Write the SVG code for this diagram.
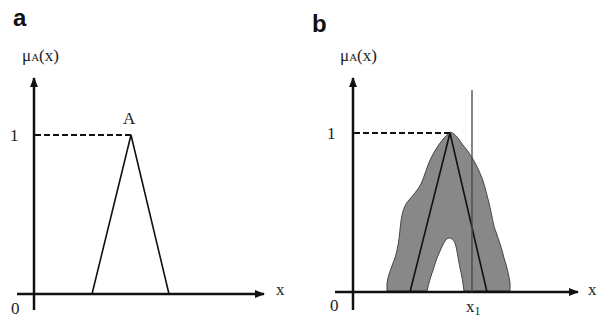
<svg xmlns="http://www.w3.org/2000/svg" width="599" height="322" viewBox="0 0 599 322">
<style>
.axis{stroke:#111;stroke-width:2.5;fill:none}
.dash{stroke:#111;stroke-width:2;stroke-dasharray:6,3;fill:none}
.tri{stroke:#111;stroke-width:1.6;fill:none}
.lbl{font-family:"Liberation Serif",serif;font-size:17px;fill:#222}
.panel{font-family:"Liberation Sans",Arial,sans-serif;font-size:24px;font-weight:bold;fill:#111}
</style>
<defs>
<marker id="arr" viewBox="0 0 10 8" refX="9" refY="4" markerWidth="10" markerHeight="8" markerUnits="userSpaceOnUse" orient="auto">
<path d="M0,0 L10,4 L0,8 Z" fill="#111"/>
</marker>
</defs>
<rect width="599" height="322" fill="#fff"/>
<g id="panel-a">
<text class="panel" x="13" y="26">a</text>
<text class="lbl" x="22" y="61">μ<tspan font-size="11">A</tspan>(x)</text>
<text class="lbl" x="10" y="141">1</text>
<text class="lbl" x="11" y="314">0</text>
<text class="lbl" x="276" y="295">x</text>
<text class="lbl" x="123" y="124">A</text>
</g>
<g id="panel-b">
<text class="panel" x="312" y="32">b</text>
<text class="lbl" x="340" y="61">μ<tspan font-size="11">A</tspan>(x)</text>
<text class="lbl" x="327" y="139">1</text>
<text class="lbl" x="330" y="311">0</text>
<text class="lbl" x="588" y="295">x</text>
<text class="lbl" x="466" y="312">x<tspan font-size="12" dy="3">1</tspan></text>
</g>
<g id="blob">
<path d="M387,291 L387,283 C388,276 391,268 395,258 C398,248 399,240 400,230 C401,220 402,211 406,204 C410,198 416,193 421,184 C425,175 427,166 431,158 C436,148 442,139 450,132 C454,133 457,136 462,144 C470,153 475,162 479,171 C484,181 486,192 489,203 C492,215 493,225 496,232 C499,241 502,249 504,258 C507,267 509,276 510,283 L510,291 L464,291 C463,283 462,276 460,268 C458,258 457,249 455,243 C453,239 451,238 449,238 C446,238 443,244 440,251 C436,259 434,268 431,276 C429,282 428,287 427,291 Z" fill="#888" stroke="#444" stroke-width="1"/>
</g>
<g id="connectors">
<line class="axis" x1="34" y1="310" x2="34" y2="78" marker-end="url(#arr)"/>
<line class="axis" x1="17" y1="294" x2="264" y2="294" marker-end="url(#arr)"/>
<line class="dash" x1="35" y1="135" x2="131" y2="135"/>
<polyline class="tri" points="92,294 131,135 169,294"/>
<line class="axis" x1="353" y1="310" x2="353" y2="78" marker-end="url(#arr)"/>
<line class="axis" x1="335" y1="292" x2="578" y2="292" marker-end="url(#arr)"/>
<line class="dash" x1="354" y1="133" x2="450" y2="133"/>
<polyline class="tri" points="410,292 450,133 487,292" stroke-width="2"/>
<line x1="472" y1="90" x2="472" y2="292" stroke="#444" stroke-width="1.3"/>
</g>
</svg>
